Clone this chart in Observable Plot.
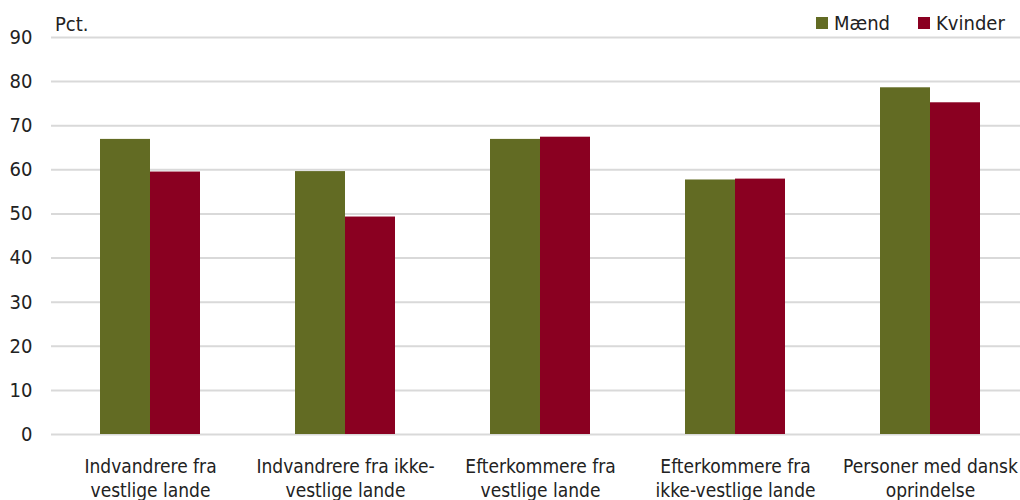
<!DOCTYPE html>
<html>
<head>
<meta charset="utf-8">
<script src="https://cdn.jsdelivr.net/npm/d3@7"></script>
<script src="https://cdn.jsdelivr.net/npm/@observablehq/plot@0.6"></script>
<style>
  body { margin: 0; background: #fff; }
  #wrap { position: relative; width: 1020px; height: 500px; overflow: hidden;
          font-family: "Liberation Sans Narrow", "DejaVu Sans Condensed", sans-serif; color: #222; }
  #chart { width: 1029px; }
  #legend { position: absolute; top: 11px; left: 816px; display: flex; gap: 28px; font-size: 20px; line-height: 24px; }
  #legend span.sw { display: inline-block; width: 12px; height: 12px; margin-right: 6px; vertical-align: 1px; }
  #unit { position: absolute; left: 55px; top: 12px; font-size: 20px; line-height: 24px; }
</style>
</head>
<body>
<div id="wrap">
  <div id="chart"></div>
  <div id="unit">Pct.</div>
  <div id="legend"></div>
</div>
<script>
const categories = [
  "Indvandrere fra vestlige lande",
  "Indvandrere fra ikke-vestlige lande",
  "Efterkommere fra vestlige lande",
  "Efterkommere fra ikke-vestlige lande",
  "Personer med dansk oprindelse"
];
const categoryLabels = [
  "Indvandrere fra\nvestlige lande",
  "Indvandrere fra ikke-\nvestlige lande",
  "Efterkommere fra\nvestlige lande",
  "Efterkommere fra\nikke-vestlige lande",
  "Personer med dansk\noprindelse"
];
const series = ["Mænd", "Kvinder"];
const maend = [66.9, 59.6, 66.9, 57.7, 78.6];
const kvinder = [59.5, 49.3, 67.4, 57.9, 75.2];
const colors = ["#626b23", "#8a0021"];
const yTicks = [0, 10, 20, 30, 40, 50, 60, 70, 80, 90];

const maendData = categories.map((c, i) => ({cat: c, sex: series[0], value: maend[i]}));
const kvinderData = categories.map((c, i) => ({cat: c, sex: series[1], value: kvinder[i]}));
const labelOf = new Map(categories.map((c, i) => [c, categoryLabels[i]]));

const chart = Plot.plot({
  width: 1029,
  height: 500,
  marginLeft: 51,
  marginRight: 0,
  marginTop: 37,
  marginBottom: 66,
  style: {fontFamily: '"Liberation Sans Narrow", "DejaVu Sans Condensed", sans-serif', fontSize: "20px", color: "#222", overflow: "visible"},
  x: {domain: categories, paddingInner: 0.744, paddingOuter: 0.372, label: null},
  y: {domain: [0, 90], label: null},
  color: {domain: series, range: colors},
  marks: [
    Plot.ruleY(yTicks, {stroke: "#d9d9d9", strokeWidth: 2}),
    Plot.barY(maendData, {x: "cat", y: "value", fill: "sex", dx: -25}),
    Plot.barY(kvinderData, {x: "cat", y: "value", fill: "sex", dx: 25}),
    Plot.axisY({ticks: yTicks, tickSize: 0, tickPadding: 19, label: null, fontSize: 20, fill: "#222"}),
    Plot.axisX({tickSize: 0, tickPadding: 22, label: null, tickFormat: (d) => labelOf.get(d), lineHeight: 1.25, fontSize: 19, fill: "#222"})
  ]
});
document.getElementById("chart").append(chart);

const legend = document.getElementById("legend");
series.forEach((s, i) => {
  const item = document.createElement("div");
  const sw = document.createElement("span");
  sw.className = "sw";
  sw.style.background = colors[i];
  item.append(sw, document.createTextNode(s));
  legend.append(item);
});
</script>
</body>
</html>
